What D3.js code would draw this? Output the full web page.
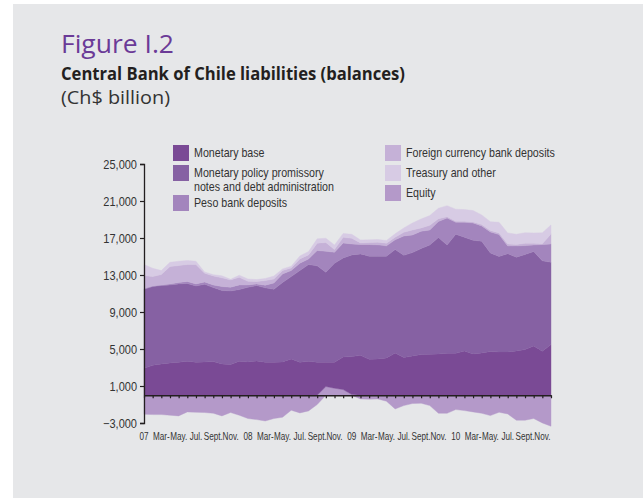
<!DOCTYPE html>
<html>
<head>
<meta charset="utf-8">
<script src="https://cdn.jsdelivr.net/npm/d3@7"></script>
<style>
  html, body { margin: 0; padding: 0; background: #ffffff; }
  svg { display: block; }
  text { fill: #333333; }
</style>
</head>
<body>
<div id="chart"></div>
<script>
// monthly balances, Jan 2007 .. Dec 2010 (Ch$ billion)
var xLabels = ['07', '', 'Mar-', '', 'May.', '', 'Jul.', '', 'Sept.', '', 'Nov.', '',
               '08', '', 'Mar-', '', 'May.', '', 'Jul.', '', 'Sept.', '', 'Nov.', '',
               '09', '', 'Mar-', '', 'May.', '', 'Jul.', '', 'Sept.', '', 'Nov.', '',
               '10', '', 'Mar-', '', 'May.', '', 'Jul.', '', 'Sept.', '', 'Nov.', ''];
var monetaryBase = [2920, 3240, 3390, 3500, 3570, 3680, 3570, 3600, 3640, 3390, 3320, 3680,
                    3600, 3710, 3570, 3570, 3600, 3930, 3570, 3680, 3570, 2630, 2810, 3530,
                    4110, 4320, 3890, 3930, 4040, 4580, 4070, 4250, 4400, 4430, 4470, 4540,
                    4540, 4790, 4470, 4580, 4720, 4680, 4680, 4790, 4940, 5330, 4760, 5480];
var promissoryNotes = [8540, 8505, 8470, 8430, 8470, 8400, 8250, 8400, 8000, 7930, 7960, 7750,
                       8070, 8150, 8040, 7890, 8580, 8900, 9910, 10450, 10420, 9730, 10700, 10700,
                       10990, 10960, 11140, 11100, 10990, 11170, 11060, 11170, 11460, 11820, 12580, 11710,
                       12870, 12290, 12290, 12070, 10670, 10310, 10630, 10130, 10270, 10200, 9770, 8900];
var pesoDeposits = [70, 70, 70, 110, 140, 220, 220, 250, 290, 430, 400, 500,
                    250, 180, 290, 680, 940, 650, 790, 610, 1660, 2270, 1190, 1620,
                    1190, 1010, 1260, 1230, 1120, 1050, 2090, 1910, 1870, 1620, 1730, 2920,
                    1300, 1620, 1870, 1660, 2270, 2380, 830, 1230, 970, 720, 1770, 1980];
var foreignDeposits = [1410, 1010, 1120, 1870, 1840, 1840, 2090, 940, 970, 940, 790, 830,
                       400, 250, 500, 430, 360, 290, 470, 430, 790, 940, 290, 610,
                       610, 180, 220, 290, 290, 290, 400, 540, 360, 500, 290, 140,
                       110, 110, 110, 140, 140, 180, 220, 140, 250, 180, 70, 1080];
var treasuryOther = [1190, 900, 430, 470, 470, 430, 360, 140, 140, 220, 70, 220,
                     250, 220, 220, 320, 180, 180, 320, 360, 470, 470, 500, 430,
                     430, 320, 290, 290, 290, 360, 470, 760, 970, 1050, 1150, 1190,
                     1300, 1260, 1230, 1050, 970, 1150, 1190, 1120, 1150, 1120, 1190, 970];
var equity = [-2050, -2090, -2090, -2160, -2230, -1800, -1840, -1870, -1950, -2230, -1870, -2160,
              -2520, -2630, -2780, -2520, -2380, -1620, -1910, -1690, -1010, 940, 760, 610,
              70, -400, -430, -400, -650, -1480, -1120, -900, -860, -1120, -1950, -1950,
              -1550, -1660, -1800, -1950, -2200, -1840, -2020, -2700, -2700, -2520, -2990, -3350];
var yTicks = [-3000, 1000, 5000, 9000, 13000, 17000, 21000, 25000];

var seriesKeys = ['equity', 'base', 'notes', 'peso', 'foreign', 'treasury'];
var seriesColors = {
  base: '#7a4a95',
  notes: '#8661a3',
  peso: '#a385bd',
  foreign: '#c5b1d7',
  treasury: '#d7cbe4',
  equity: '#b499c9'
};
var legendItems = [
  {key: 'base', lines: ['Monetary base'], col: 0, row: 0},
  {key: 'notes', lines: ['Monetary policy promissory', 'notes and debt administration'], col: 0, row: 1},
  {key: 'peso', lines: ['Peso bank deposits'], col: 0, row: 2.5},
  {key: 'foreign', lines: ['Foreign currency bank deposits'], col: 1, row: 0},
  {key: 'treasury', lines: ['Treasury and other'], col: 1, row: 1},
  {key: 'equity', lines: ['Equity'], col: 1, row: 2}
];

var width = 643,
    height = 498,
    sans = '"Open Sans", "Noto Sans", sans-serif',
    plain = '"Liberation Sans", Arial, sans-serif';

// squeeze a text horizontally to imitate the condensed face of the original
function condensed(sel, sx) {
  sel.attr('transform', function() {
    var t = d3.select(this);
    var tx = +t.attr('x') || 0, ty = +t.attr('y') || 0;
    t.attr('x', 0).attr('y', 0);
    return 'translate(' + tx + ',' + ty + ') scale(' + sx + ',1)';
  });
}

var rows = monetaryBase.map(function(v, i) {
  return {
    i: i,
    base: v,
    notes: promissoryNotes[i],
    peso: pesoDeposits[i],
    foreign: foreignDeposits[i],
    treasury: treasuryOther[i],
    equity: equity[i]
  };
});

var svg = d3.select('#chart').append('svg')
    .attr('width', width)
    .attr('height', height);

// grey panel
svg.append('rect')
    .attr('x', 13).attr('y', 4)
    .attr('width', width - 13).attr('height', height - 4)
    .attr('fill', '#e6e7e9');

// titles
svg.append('text')
    .attr('x', 61).attr('y', 53)
    .attr('font-family', sans)
    .attr('font-size', 25)
    .attr('textLength', 113).attr('lengthAdjust', 'spacingAndGlyphs')
    .style('fill', '#6b3a97')
    .text('Figure I.2');
svg.append('text')
    .attr('x', 61).attr('y', 80)
    .attr('font-family', sans)
    .attr('font-size', 17.5)
    .attr('font-weight', 'bold')
    .attr('textLength', 344).attr('lengthAdjust', 'spacingAndGlyphs')
    .style('fill', '#231f20')
    .text('Central Bank of Chile liabilities (balances)');
svg.append('text')
    .attr('x', 61).attr('y', 104)
    .attr('font-family', sans)
    .attr('font-size', 17.5)
    .attr('textLength', 109).attr('lengthAdjust', 'spacingAndGlyphs')
    .style('fill', '#333333')
    .text('(Ch$ billion)');

// scales
var x = d3.scaleLinear().domain([0, rows.length - 1]).range([144, 551]),
    y = d3.scaleLinear().domain([-3000, 25000]).range([423, 164]);

var stack = d3.stack()
    .keys(seriesKeys)
    .offset(d3.stackOffsetDiverging);
var layers = stack(rows);

var area = d3.area()
    .x(function(d) { return x(d.data.i); })
    .y0(function(d) { return y(d[0]); })
    .y1(function(d) { return y(d[1]); });

var plot = svg.append('g').attr('class', 'layers');
plot.selectAll('path')
    .data(layers)
    .enter().append('path')
    .attr('d', area)
    .attr('fill', function(d) { return seriesColors[d.key]; })
    .attr('stroke', function(d) { return seriesColors[d.key]; })
    .attr('stroke-width', 0.4);

// y axis
var yAxis = d3.axisLeft(y)
    .tickValues(yTicks)
    .tickSize(4)
    .tickPadding(3)
    .tickFormat(d3.format(','));
var gy = svg.append('g')
    .attr('transform', 'translate(144,0)')
    .call(yAxis);
gy.select('.domain').attr('stroke', '#231f20').attr('stroke-width', 1.3);
gy.selectAll('.tick line').attr('stroke', '#231f20').attr('stroke-width', 1.2);
gy.selectAll('.tick text')
    .attr('font-family', plain)
    .attr('font-size', 12.5)
    .attr('x', -7)
    .style('fill', '#333333')
    .call(condensed, 0.88);

// x axis on the zero line
var xAxis = d3.axisBottom(x)
    .tickValues(d3.range(rows.length))
    .tickSize(3)
    .tickSizeOuter(0)
    .tickFormat('');
var gx = svg.append('g')
    .attr('transform', 'translate(0,' + y(0) + ')')
    .call(xAxis);
gx.select('.domain').attr('stroke', '#231f20').attr('stroke-width', 1.6);
gx.selectAll('.tick line').attr('stroke', '#231f20').attr('stroke-width', 1.2);

svg.append('g').attr('class', 'x-labels')
    .selectAll('text')
    .data(xLabels)
    .enter().append('text')
    .attr('x', function(d, i) { return x(i); })
    .attr('y', 440)
    .attr('text-anchor', 'middle')
    .attr('font-family', plain)
    .attr('font-size', 11)
    .style('fill', '#333333')
    .text(function(d) { return d; })
    .call(condensed, 0.74);

// legend
var legend = svg.append('g').attr('class', 'legend')
    .selectAll('g')
    .data(legendItems)
    .enter().append('g')
    .attr('transform', function(d) {
      return 'translate(' + (d.col ? 385 : 173) + ',' + (145 + d.row * 20) + ')';
    });
legend.append('rect')
    .attr('width', 16).attr('height', 16)
    .attr('fill', function(d) { return seriesColors[d.key]; });
legend.each(function(d) {
  var g = d3.select(this);
  d.lines.forEach(function(line, k) {
    g.append('text')
      .attr('x', 21)
      .attr('y', 12 + k * 13.5)
      .attr('font-family', plain)
      .attr('font-size', 12)
      .style('fill', '#333333')
      .text(line)
      .call(condensed, 0.89);
  });
});
</script>
</body>
</html>
